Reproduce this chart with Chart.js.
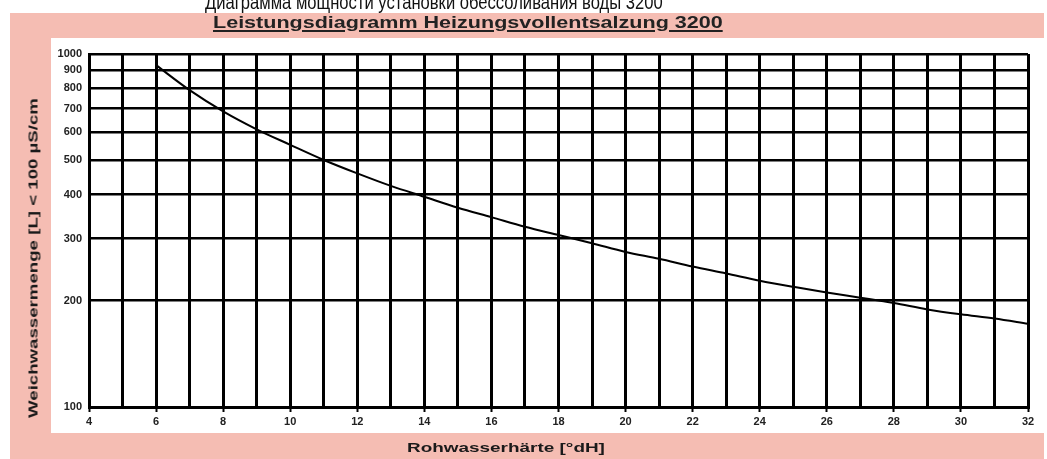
<!DOCTYPE html>
<html>
<head>
<meta charset="utf-8">
<script src="https://cdn.jsdelivr.net/npm/chart.js@4.4.1/dist/chart.umd.min.js"></script>
<style>
    body { margin: 0; background: #fff; width: 1047px; height: 459px; overflow: hidden; position: relative;
           font-family: "Liberation Sans", Arial, sans-serif; }
    #pink { position: absolute; left: 10px; top: 13px; width: 1034px; height: 446px; background: #f5bdb3; }
    #panel { position: absolute; left: 51px; top: 38px; width: 993px; height: 395px; background: #fff; }
    #chartBox { position: absolute; left: 0; top: 0; width: 1047px; height: 459px; }
    .t { position: absolute; left: 0; top: 0; white-space: nowrap; transform-origin: 0 0; line-height: 1; }
    #ruTitle { font-size: 20px; color: #111; }
    #deTitle { font-size: 16px; font-weight: bold; color: #222; text-decoration: underline; text-decoration-thickness: 2px; text-underline-offset: 2px; }
    #yTitle, #xTitle { font-size: 13px; font-weight: bold; color: #1a1a1a; }
</style>
</head>
<body>
<div id="pink"></div>
<div id="panel"></div>
<div id="chartBox"><canvas id="myChart" width="1047" height="459"></canvas></div>

<div class="t" id="ruTitle">Диаграмма мощности установки обессоливания воды 3200</div>
<div class="t" id="deTitle">Leistungsdiagramm Heizungsvollentsalzung 3200</div>
<div class="t" id="yTitle">Weichwassermenge [L] &lt; 100 µS/cm</div>
<div class="t" id="xTitle">Rohwasserhärte [°dH]</div>

<script>
    // Rohwasserhärte (°dH)
    const hardness = [6, 7, 8, 9, 10, 11, 12, 13, 14, 15, 16, 17, 18, 19, 20,
                      21, 22, 23, 24, 25, 26, 27, 28, 29, 30, 31, 32];
    // Weichwassermenge (L)
    const softWater = [930, 790, 688, 612, 553, 501, 459, 423, 394, 367, 345, 324, 307, 291, 275,
                       263, 250, 239, 228, 219, 211, 204, 197, 189, 183, 178, 172];

    const xLabels = [4, 6, 8, 10, 12, 14, 16, 18, 20, 22, 24, 26, 28, 30, 32];
    const yLabels = [100, 200, 300, 400, 500, 600, 700, 800, 900, 1000];

    // place the html texts (stretch to width of the original)
    const fit = (id, x, y, width, rotate) => {
        const el = document.getElementById(id);
        const s = width / el.offsetWidth;
        if (rotate) {
            const h = el.offsetHeight;
            el.style.transform = `translate(${x - h / 2}px, ${y}px) rotate(-90deg) scaleX(${s})`;
        } else {
            el.style.transform = `translate(${x}px, ${y}px) scaleX(${s})`;
        }
    };
    fit('ruTitle', 205, -8, 458);
    fit('deTitle', 213, 15, 510);
    fit('yTitle', 33, 418, 320, true);
    fit('xTitle', 407, 441, 198);

    const tickFont = { family: '"Liberation Sans", Arial, sans-serif', size: 11, weight: 'bold' };

    const ctx = document.getElementById('myChart').getContext('2d');
    const chart = new Chart(ctx, {
        type: 'line',
        data: {
            datasets: [{
                data: hardness.map((h, i) => ({ x: h, y: softWater[i] })),
                borderColor: '#000',
                borderWidth: 2,
                cubicInterpolationMode: 'monotone',
                pointRadius: 1.5,
                pointStyle: 'rect',
                pointBackgroundColor: '#000',
                pointBorderWidth: 0,
                fill: false
            }]
        },
        options: {
            responsive: false,
            animation: false,
            layout: { padding: { top: 54, right: 19, left: 0, bottom: 0 } },
            plugins: { legend: { display: false }, tooltip: { enabled: false } },
            scales: {
                x: {
                    type: 'linear',
                    min: 4,
                    max: 32,
                    afterFit: (scale) => { scale.height = 52; },
                    ticks: {
                        stepSize: 1,
                        autoSkip: false,
                        maxRotation: 0,
                        padding: 3,
                        color: '#222',
                        font: tickFont,
                        callback: (v) => xLabels.includes(v) ? String(v) : ''
                    },
                    grid: {
                        color: '#000',
                        lineWidth: 3,
                        tickLength: 5,
                        tickWidth: 2,
                        tickColor: (c) => (c.tick && xLabels.includes(c.tick.value)) ? '#000' : 'rgba(0,0,0,0)'
                    },
                    border: { display: true, color: '#000', width: 3 }
                },
                y: {
                    type: 'logarithmic',
                    min: 100,
                    max: 1000,
                    afterFit: (scale) => { scale.width = 89; },
                    afterBuildTicks: (scale) => { scale.ticks = yLabels.map(v => ({ value: v })); },
                    ticks: {
                        padding: 7,
                        color: '#222',
                        font: tickFont,
                        callback: (v) => String(v)
                    },
                    grid: { color: '#000', lineWidth: 2.5, drawTicks: false },
                    border: { display: true, color: '#000', width: 3 }
                }
            }
        }
    });
</script>
</body>
</html>
